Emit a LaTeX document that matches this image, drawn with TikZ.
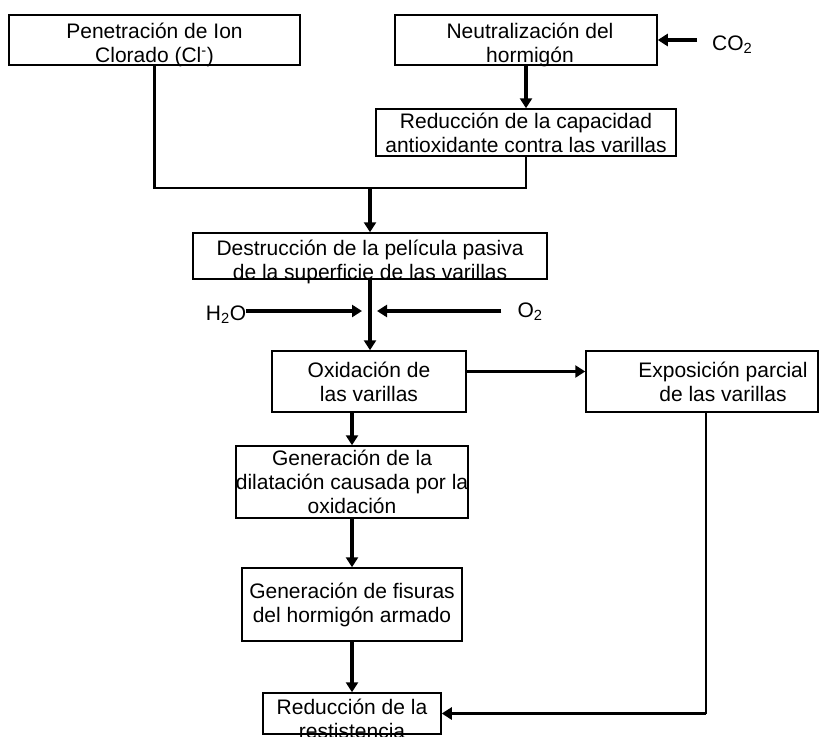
\documentclass[tikz,border=0pt]{standalone}
\usepackage{fontspec}
\setmainfont{Liberation Sans}
\usetikzlibrary{arrows.meta}

\begin{document}
\begin{tikzpicture}[x=1pt,y=-1pt,
  caja/.style={draw,line width=1.5pt,inner sep=0pt,align=center,font=\fontsize{21}{24}\selectfont},
  texto/.style={inner sep=0pt,align=center,font=\fontsize{21}{24}\selectfont},
  linea/.style={line width=2.5pt},
  flecha/.style={line width=3.5pt,-{Triangle[length=10pt,width=12pt]}}]
\useasboundingbox (0,0) rectangle (821,736);
% cajas
\node[caja,minimum width=291pt,minimum height=50pt,label={[texto,yshift=-5pt]center:{Penetración de Ion\\Clorado (Cl\textsuperscript{-})}}](b1) at (154.5,40){};
\node[caja,minimum width=262pt,minimum height=50pt,label={[texto,xshift=4pt,yshift=-5pt]center:{Neutralización del\\hormigón}}](b2) at (526,40){};
\node[caja,minimum width=300pt,minimum height=47pt](b3) at (526,132.5){Reducción de la capacidad\\antioxidante contra las varillas};
\node[caja,minimum width=354pt,minimum height=46pt,label={[texto,yshift=-6pt]center:{Destrucción de la película pasiva\\de la superficie de las varillas}}](b4) at (370,256){};
\node[caja,minimum width=194pt,minimum height=61pt](b5) at (369,381.5){Oxidación de\\las varillas};
\node[caja,minimum width=232pt,minimum height=61pt,label={[texto,xshift=21pt]center:{Exposición parcial\\de las varillas}}](b6) at (702,381.5){};
\node[caja,minimum width=220pt,minimum height=72pt](b7) at (352,482){Generación de la\\dilatación causada por la\\oxidación};
\node[caja,minimum width=220pt,minimum height=73pt](b8) at (352,604.5){Generación de fisuras\\del hormigón armado};
\node[caja,minimum width=178pt,minimum height=41pt,label={[texto,yshift=-5pt]center:{Reducción de la\\restistencia}}](b9) at (352,713.5){};
% agentes
\node[texto,anchor=west](co2) at (712,45){CO\textsubscript{2}};
\node[texto](h2o) at (226,315){H\textsubscript{2}O};
\node[texto](o2) at (530,312){O\textsubscript{2}};
\coordinate (j) at (370,188);
\coordinate (h) at (362,311);
\coordinate (o) at (377,311);
\coordinate (k) at (706,713.5);
% conexiones
\draw[flecha]([xshift=-15pt]co2.west |- b2.east)--(b2.east);
\draw[flecha](b2.south)--(b3.north);
\draw[linea](b1.south)|-(j)-|(b3.south);
\draw[flecha](j)--(b4.north);
\draw[flecha](h2o.east |- h)--(h);
\draw[flecha]([xshift=-16pt]o2.west |- o)--(o);
\draw[flecha](b4.south)--(b4.south |- b5.north);
\draw[flecha]([yshift=10pt]b5.east)--([yshift=10pt]b6.west);
\draw[flecha](b7.north |- b5.south)--(b7.north);
\draw[flecha](b7.south)--(b8.north);
\draw[flecha](b8.south)--(b9.north);
\draw[linea](b6.south -| k)--(k);
\draw[flecha](k)--(b9.east);
\end{tikzpicture}
\end{document}
